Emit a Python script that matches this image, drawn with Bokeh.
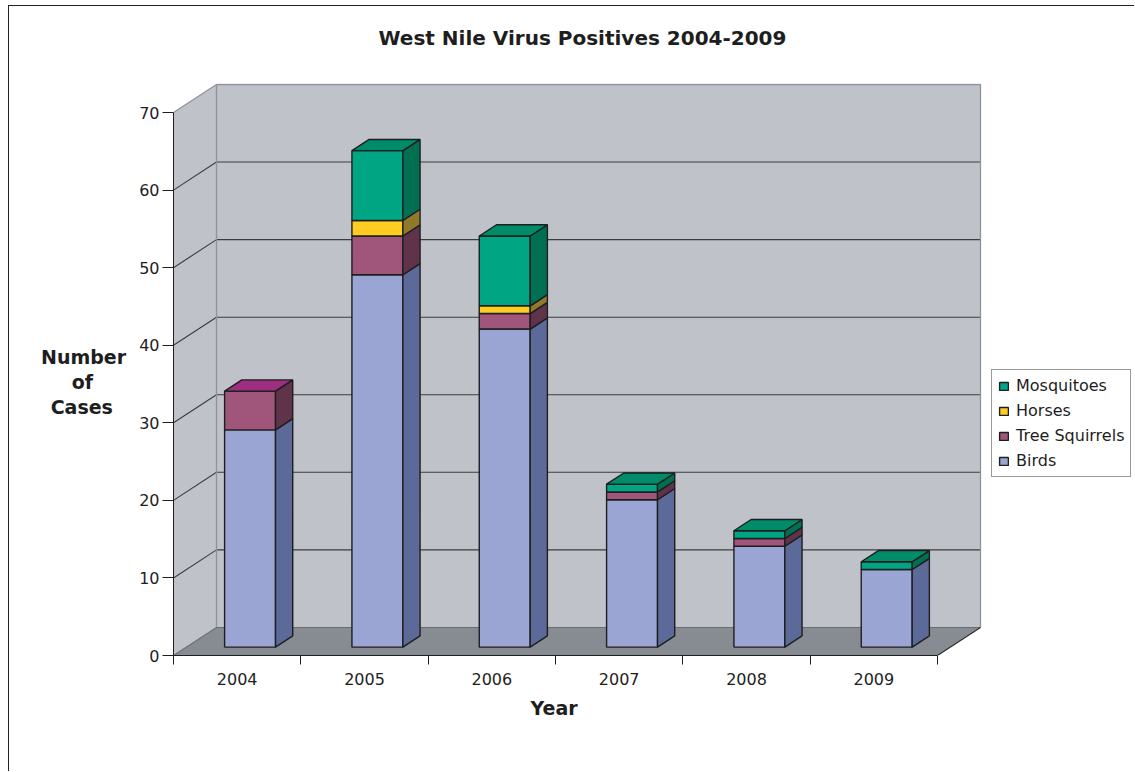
from bokeh.plotting import figure
from bokeh.models import Range1d, FixedTicker, Legend, LegendItem, ColumnDataSource, Title
from bokeh.embed import file_html
from bokeh.resources import INLINE

# ---------------- data ----------------
years = ["2004", "2005", "2006", "2007", "2008", "2009"]
birds = [28, 48, 41, 19, 13, 10]
tree_squirrels = [5, 5, 2, 1, 1, 0]
horses = [0, 2, 1, 0, 0, 0]
mosquitoes = [0, 9, 9, 1, 1, 1]
y_ticks = [0, 10, 20, 30, 40, 50, 60, 70]

series_names = ["Birds", "Tree Squirrels", "Horses", "Mosquitoes"]
series_values = [birds, tree_squirrels, horses, mosquitoes]
legend_order = ["Mosquitoes", "Horses", "Tree Squirrels", "Birds"]

# ---------------- styles ----------------
front_colors = ["#9aa5d4", "#a0567a", "#ffcc22", "#00a684"]
side_colors = ["#5b6a98", "#5f3349", "#8f7a2c", "#006f52"]
top_colors = ["#b4bde6", "#9c2f80", "#ffe066", "#008c6b"]
WALL = "#bfc3c9"
FLOOR = "#878c92"
EDGE = "#8f9399"
GRID = "#3c3c3c"
INK = "#1e1e1e"
FONT = "DejaVu Sans"
NB = "\u00a0"

# 3-D projection geometry (pixels per unit, depth offsets)
PX_X = 127.33
PX_Y = 542.0 / 70.0
DX = 43.0 / PX_X
DY = 28.0 / PX_Y
FRONT = 0.3
DEPTH = 0.4
BAR_W = 0.4

ncat = len(years)
ymax = y_ticks[-1]
FRAME_W = 962  # frame runs to the right edge so the legend fits inside it

p = figure(width=1126, height=766,
           x_range=Range1d(0, FRAME_W / PX_X),
           y_range=Range1d(0, ymax + DY + 1.0 / PX_Y),
           output_backend="svg", toolbar_location=None,
           min_border_left=164, min_border_right=0,
           min_border_top=77, min_border_bottom=117,
           background_fill_color="white", border_fill_color="white",
           outline_line_color=None)
p.grid.visible = False
p.styles = {"margin-left": "8px", "margin-top": "5px",
            "border-left": "1px solid #222", "border-top": "1px solid #222"}

# title (placed over the chart area)
p.title.text = "West Nile Virus Positives 2004-2009\n"
p.title.align = "left"
p.title.vertical_align = "top"
p.title.offset = 205
p.title.text_font = FONT
p.title.text_font_size = "20px"
p.title.text_font_style = "bold"
p.title.text_color = INK
p.title.standoff = 16

# ---------------- walls & floor ----------------
p.patch([0, ncat, ncat + DX, DX], [0, 0, DY, DY], fill_color=FLOOR, line_color=None)
p.patch([0, DX, DX, 0], [0, DY, ymax + DY, ymax], fill_color=WALL, line_color=None)
p.quad(left=[DX], right=[ncat + DX], bottom=[DY], top=[ymax + DY],
       fill_color=WALL, line_color=None)

inner = [t for t in y_ticks if 0 < t < ymax]
p.segment(x0=[DX] * len(inner), x1=[ncat + DX] * len(inner),
          y0=[t + DY for t in inner], y1=[t + DY for t in inner],
          line_color=GRID, line_width=1.1)
p.segment(x0=[0] * len(inner), x1=[DX] * len(inner),
          y0=inner, y1=[t + DY for t in inner],
          line_color=GRID, line_width=1.1)
# wall edges
p.line([0, DX, ncat + DX, ncat + DX], [ymax, ymax + DY, ymax + DY, DY],
       line_color=EDGE, line_width=1.3)
p.line([DX, DX], [DY, ymax + DY], line_color=EDGE, line_width=1.3)
p.line([0, DX, ncat + DX], [0, DY, DY], line_color="#6a6e73", line_width=1.1)
p.line([ncat, ncat + DX], [0, DY], line_color="#2a2a2a", line_width=1.1)

# ---------------- bars ----------------
cum = [0.0] * ncat
top_series = [max([s for s in range(len(series_values)) if series_values[s][i] > 0], default=-1)
              for i in range(ncat)]
tops = {"xs": [], "ys": [], "c": []}
legend_renderers = {}
for s, (name, vals) in enumerate(zip(series_names, series_values)):
    fl, fr, fb, ft = [], [], [], []
    sxs, sys = [], []
    for i, v in enumerate(vals):
        if v <= 0:
            continue
        x0 = i + 0.5 - BAR_W / 2 + FRONT * DX
        x1 = x0 + BAR_W
        y0 = FRONT * DY + cum[i]
        y1 = y0 + v
        fl.append(x0); fr.append(x1); fb.append(y0); ft.append(y1)
        sxs.append([x1, x1 + DEPTH * DX, x1 + DEPTH * DX, x1])
        sys.append([y0, y0 + DEPTH * DY, y1 + DEPTH * DY, y1])
        if top_series[i] == s:
            tops["xs"].append([x0, x1, x1 + DEPTH * DX, x0 + DEPTH * DX])
            tops["ys"].append([y1, y1, y1 + DEPTH * DY, y1 + DEPTH * DY])
            tops["c"].append(top_colors[s])
        cum[i] += v
    r = p.quad(left=fl, right=fr, bottom=fb, top=ft,
               fill_color=front_colors[s], line_color=INK, line_width=1.4)
    p.patches(xs=sxs, ys=sys, fill_color=side_colors[s], line_color=INK, line_width=1.4)
    legend_renderers[name] = r

p.patches(xs="xs", ys="ys", fill_color="c", line_color=INK, line_width=1.4,
          source=ColumnDataSource(tops))

# ---------------- axes ----------------
ya = p.yaxis[0]
ya.ticker = FixedTicker(ticks=y_ticks)
ya.bounds = (0, ymax)
ya.axis_line_color = INK
ya.major_tick_line_color = INK
ya.major_tick_out = 11
ya.major_tick_in = 0
ya.minor_tick_out = 0
ya.minor_tick_in = 0
ya.major_label_standoff = 3
ya.major_label_text_font = FONT
ya.major_label_text_font_size = "16px"
ya.major_label_text_color = INK
ya.axis_label = "\nNumber\nof" + NB * 5 + "\nCases" + NB * 2
ya.axis_label_text_font = FONT
ya.axis_label_text_font_size = "19px"
ya.axis_label_text_font_style = "bold"
ya.axis_label_text_color = INK
ya.axis_label_standoff = 10
ya.axis_label_text_line_height = 1.13
ya.axis_label_orientation = "horizontal"

xa = p.xaxis[0]
centers = [i + 0.5 for i in range(ncat)]
xa.ticker = FixedTicker(ticks=centers, minor_ticks=list(range(ncat + 1)))
xa.bounds = (0, ncat)
xa.major_label_overrides = {c: y for c, y in zip(centers, years)}
xa.axis_line_color = INK
xa.major_tick_out = 0
xa.major_tick_in = 0
xa.minor_tick_out = 9
xa.minor_tick_in = 0
xa.minor_tick_line_color = INK
xa.major_label_standoff = 8
xa.major_label_text_font = FONT
xa.major_label_text_font_size = "16px"
xa.major_label_text_color = INK

# x-axis title, centred under the category axis
p.add_layout(Title(text="Year", align="left", offset=357, standoff=14,
                   text_font=FONT, text_font_size="19px", text_font_style="bold",
                   text_color=INK), "below")

# ---------------- legend ----------------
legend = Legend(items=[LegendItem(label=n, renderers=[legend_renderers[n]]) for n in legend_order],
                location=(818, 178), margin=0, padding=6, spacing=6,
                label_height=19, glyph_height=10, glyph_width=11, label_standoff=7,
                label_text_font=FONT, label_text_font_size="16px", label_text_color=INK,
                border_line_color="#333333", border_line_width=1,
                background_fill_color="white", background_fill_alpha=1.0)
p.add_layout(legend)

open("out.html", "w").write(file_html(p, INLINE))
